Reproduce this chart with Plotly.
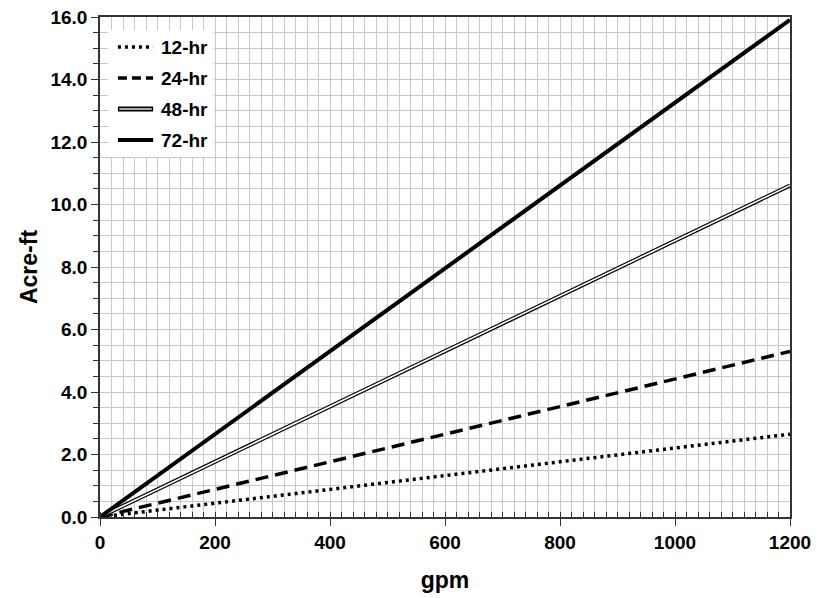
import plotly.graph_objects as go

gpm = [0, 200, 400, 600, 800, 1000, 1200]
hr12 = [0, 0.44, 0.88, 1.33, 1.77, 2.21, 2.65]
hr24 = [0, 0.88, 1.77, 2.65, 3.54, 4.42, 5.30]
hr48 = [0, 1.77, 3.54, 5.30, 7.07, 8.84, 10.61]
hr72 = [0, 2.65, 5.30, 7.96, 10.61, 13.26, 15.91]
legend_labels = ["12-hr", "24-hr", "48-hr", "72-hr"]
x_ticks = [0, 200, 400, 600, 800, 1000, 1200]
y_ticks = [0, 2, 4, 6, 8, 10, 12, 14, 16]

FONT = "Liberation Sans, Arial, sans-serif"

fig = go.Figure()
fig.add_trace(go.Scatter(x=gpm, y=hr12, mode="lines", name="12-hr", showlegend=False,
                         line=dict(color="black", width=3.5, dash="3px,4px")))
fig.add_trace(go.Scatter(x=gpm, y=hr24, mode="lines", name="24-hr", showlegend=False,
                         line=dict(color="black", width=3.5, dash="13px,7px")))
fig.add_trace(go.Scatter(x=gpm, y=hr48, mode="lines", name="48-hr", showlegend=False,
                         line=dict(color="black", width=4)))
fig.add_trace(go.Scatter(x=gpm, y=hr48, mode="lines", name="48-hr inner", showlegend=False,
                         line=dict(color="white", width=1.6), hoverinfo="skip"))
fig.add_trace(go.Scatter(x=gpm, y=hr72, mode="lines", name="72-hr", showlegend=False,
                         line=dict(color="black", width=4)))

# custom legend
shapes = [dict(type="rect", xref="paper", yref="paper", x0=0.012, x1=0.165, y0=0.72, y1=0.974,
               fillcolor="white", line=dict(width=0), layer="above")]
ys = [0.94, 0.878, 0.816, 0.754]
styles = [dict(color="black", width=3.5, dash="3px,4px"),
          dict(color="black", width=3.5, dash="9px,5px"),
          None,
          dict(color="black", width=4)]
for yv, st in zip(ys, styles):
    if st is None:
        shapes.append(dict(type="line", xref="paper", yref="paper", x0=0.026, x1=0.077, y0=yv, y1=yv,
                           line=dict(color="black", width=5), layer="above"))
        shapes.append(dict(type="line", xref="paper", yref="paper", x0=0.028, x1=0.075, y0=yv, y1=yv,
                           line=dict(color="#aaaaaa", width=2), layer="above"))
    else:
        shapes.append(dict(type="line", xref="paper", yref="paper", x0=0.026, x1=0.077, y0=yv, y1=yv,
                           line=st, layer="above"))
annotations = [dict(xref="paper", yref="paper", x=0.086, y=yv, text=t, showarrow=False,
                    xanchor="left", yanchor="middle",
                    font=dict(family=FONT, size=19, color="black", weight="bold"))
               for yv, t in zip(ys, legend_labels)]

# page body has an 8px default margin, so the figure is sized to fit the 825x598 window
fig.update_layout(
    width=817, height=590,
    margin=dict(l=92, r=35, t=9, b=81, autoexpand=False),
    paper_bgcolor="white", plot_bgcolor="white",
    shapes=shapes, annotations=annotations,
    font=dict(family=FONT, color="black"),
)
fig.update_xaxes(
    range=[0, 1200], tickvals=x_ticks, ticktext=[str(v) for v in x_ticks],
    showline=True, linecolor="#333333", linewidth=1.5, mirror=True,
    ticks="outside", ticklen=7, tickcolor="#333333",
    showgrid=True, gridcolor="#c8c8c8", gridwidth=1,
    minor=dict(dtick=20, showgrid=True, gridcolor="#c8c8c8", gridwidth=1,
               ticks="inside", ticklen=5, tickcolor="#333333"),
    tickfont=dict(family=FONT, size=19, color="black", weight="bold"),
    title=dict(text="gpm", font=dict(family=FONT, size=23, color="black", weight="bold"), standoff=20),
    zeroline=False, automargin=False, ticklabeloverflow="allow",
)
fig.update_yaxes(
    range=[0, 16], tickvals=y_ticks, ticktext=[f"{v:.1f}" for v in y_ticks],
    showline=True, linecolor="#333333", linewidth=1.5, mirror=True,
    ticks="outside", ticklen=7, tickcolor="#333333",
    showgrid=True, gridcolor="#c8c8c8", gridwidth=1,
    minor=dict(dtick=0.5, showgrid=True, gridcolor="#c8c8c8", gridwidth=1,
               ticks="outside", ticklen=5, tickcolor="#333333"),
    tickfont=dict(family=FONT, size=19, color="black", weight="bold"),
    title=dict(text="Acre-ft", font=dict(family=FONT, size=23, color="black", weight="bold"), standoff=6),
    zeroline=False, automargin=False, ticklabeloverflow="allow",
)

fig.write_html("out.html")
